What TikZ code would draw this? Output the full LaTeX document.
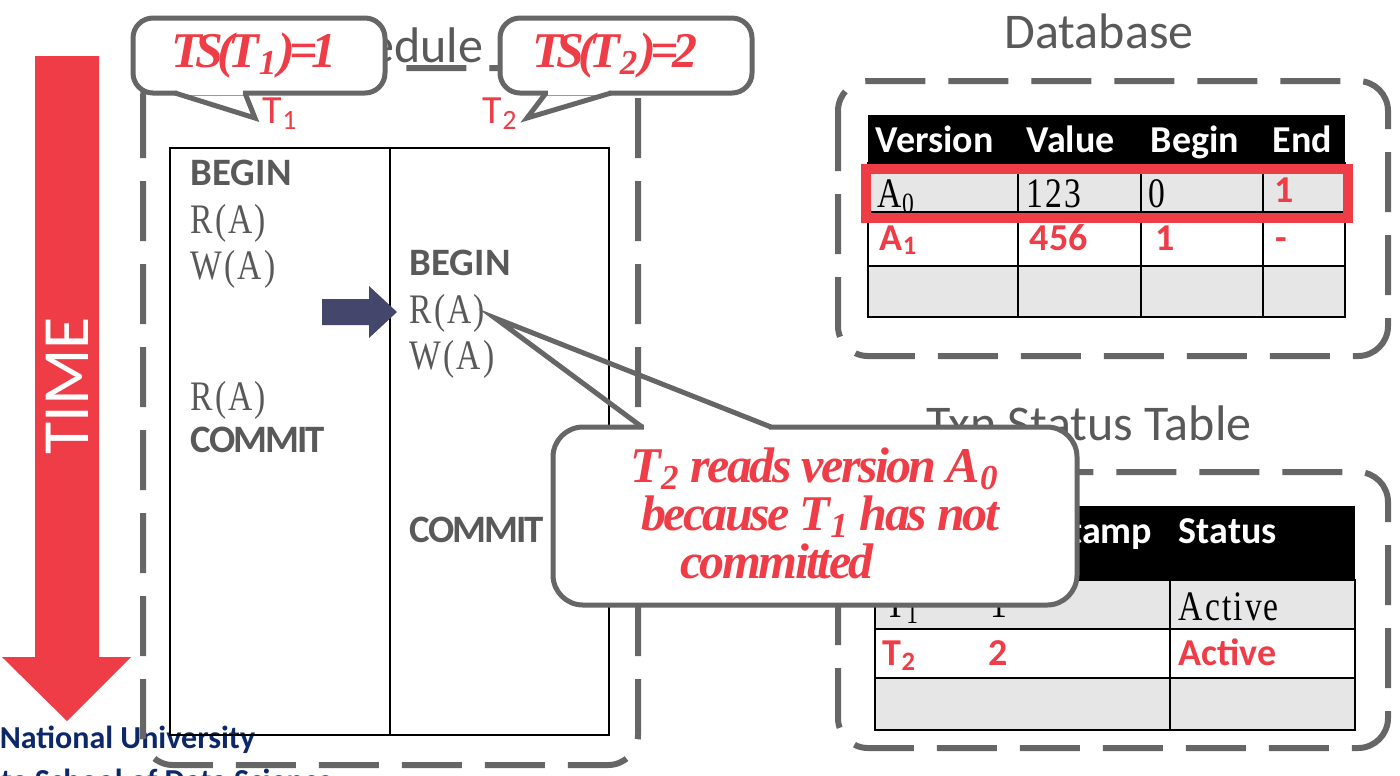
\documentclass[tikz,border=0pt]{standalone}
\usepackage{fontspec}
\setmainfont{Liberation Serif}
\setsansfont{Carlito}
\newfontfamily\opfont[FakeStretch=0.8, LetterSpace=5]{Liberation Serif}
\newfontfamily\tightsans[LetterSpace=-5]{Carlito}
\newfontfamily\notefont[LetterSpace=-5]{Liberation Serif}
\newfontfamily\tsfont[LetterSpace=-12]{Liberation Serif}
\usetikzlibrary{positioning}

\definecolor{slidered}{HTML}{EE3D46}
\definecolor{linegray}{HTML}{666666}
\definecolor{textgray}{HTML}{595959}
\definecolor{arrownavy}{HTML}{45466B}
\definecolor{rowgray}{HTML}{E6E6E6}
\definecolor{uninavy}{HTML}{0C2869}

\tikzset{
  dashbox/.style={draw=linegray, line width=1.5pt, dash pattern=on 15pt off 5.75pt, rounded corners=7.5pt},
  bubble/.style={draw=linegray, line width=1.25pt, fill=white, rounded corners=5pt, inner sep=0pt},
  tail/.style={draw=linegray, line width=1.25pt, line join=miter},
  grid/.style={draw=black, line width=0.5pt},
  title/.style={font=\sffamily\fontsize{12.5}{15}\selectfont, text=textgray, anchor=base, inner sep=0pt},
  hdr/.style={font=\sffamily\bfseries\fontsize{9.5}{11}\selectfont, text=white, anchor=base west, inner sep=0pt},
  cell/.style={font=\opfont\fontsize{10.5}{13}\selectfont, text=black, anchor=base west, inner sep=0pt},
  redcell/.style={font=\sffamily\bfseries\fontsize{9.5}{11}\selectfont, text=slidered, anchor=base west, inner sep=0pt},
  op/.style={font=\opfont\fontsize{10.5}{13}\selectfont, text=textgray, anchor=base west, inner sep=0pt},
  kw/.style={font=\sffamily\bfseries\fontsize{9.7}{12}\selectfont, text=textgray, anchor=base west, inner sep=0pt},
  kwtight/.style={kw, font=\tightsans\bfseries\fontsize{9.7}{12}\selectfont},
  txnlabel/.style={font=\sffamily\fontsize{10}{12}\selectfont, text=slidered, anchor=base west, inner sep=0pt},
  note/.style={font=\notefont\bfseries\itshape\fontsize{12.5}{14}\selectfont, text=slidered, anchor=base, inner sep=0pt},
  tsnote/.style={font=\tsfont\bfseries\itshape\fontsize{12.5}{14}\selectfont, text=slidered, anchor=base, inner sep=0pt},
  uni/.style={font=\sffamily\bfseries\fontsize{8}{10}\selectfont, text=uninavy, anchor=base west, inner sep=0pt}
}

\begin{document}
\begin{tikzpicture}[x=0.25pt, y=-0.25pt]
\useasboundingbox (0,0) rectangle (1400,775);
% footer, cut by the page edge
\begin{scope}
\clip (0,0) rectangle (1400,775);
\node[uni] (uni1) at (-1,748) {National University};
\node[uni] (uni2) at (0,791) {te School of Data Science};
\end{scope}
% time arrow
\fill[slidered] (35,56) -- (99,56) -- (99,657) -- (131,657) -- (67,721) -- (2,657) -- (35,657) -- cycle;
\node[font=\sffamily\fontsize{16.5}{18}\selectfont, text=white, rotate=90] (time) at (67,386) {TIME};

% schedule
\draw[dashbox] (143,68) rectangle (638,765);
\node[title, anchor=base east] (schedtitle) at (484,62) {Schedule};
\draw[grid] (170,148) rectangle (609,735);
\draw[grid] (390,148) -- (390,735);
\node[kw] (begin1) at (190,185) {BEGIN};
\node[op] (read1) at (190,233) {R(A)};
\node[op] (write1) at (190,279) {W(A)};
\node[op] (read1b) at (190,410) {R(A)};
\node[kwtight] (commit1) at (190,452) {COMMIT};
\node[kw] (begin2) at (409,275) {BEGIN};
\node[op] (read2) at (409,323) {R(A)};
\node[op] (write2) at (409,369) {W(A)};
\node[kwtight] (commit2) at (409,542) {COMMIT};
\fill[arrownavy] (322,299) -- (369,299) -- (369,286) -- (397,312) -- (369,338) -- (369,325) -- (322,325) -- cycle;
\node[txnlabel] (lblT1) at (262,123) {T\textsubscript{1}};
\node[txnlabel] (lblT2) at (482,123) {T\textsubscript{2}};

% database
\node[title] (dbtitle) at (1099,48) {Database};
\draw[dashbox] (838,81) rectangle (1388,356);
\fill[black] (868,115) rectangle (1345,163);
\fill[rowgray] (868,163) rectangle (1345,212);
\fill[rowgray] (868,266) rectangle (1345,317);
\draw[grid] (868,163) rectangle (1345,317);
\foreach \y in {212,266}
  \draw[grid] (868,\y) -- (1345,\y);
\foreach \x in {1018,1141,1263}
  \draw[grid] (\x,163) -- (\x,317);
\foreach \x/\t in {875/Version, 1026/Value, 1150/Begin, 1272/End}
  \node[hdr] (db\t) at (\x,152) {\t};
\node[cell] (verA0) at (877,207) {A\textsubscript{0}};
\node[cell] (valA0) at (1026,207) {123};
\node[cell] (begA0) at (1148,207) {0};
\node[redcell] (endA0) at (1274,202) {1};
\node[redcell] (verA1) at (879,250) {A\textsubscript{1}};
\node[redcell] (valA1) at (1029,250) {456};
\node[redcell] (begA1) at (1155,250) {1};
\node[redcell] (endA1) at (1275,250) {-};
\draw[slidered, line width=2.5pt] (866,169) rectangle (1348,218);

% txn status table
\node[title] (txntitle) at (1089,440) {Txn Status Table};
\draw[dashbox] (838,472) rectangle (1388,748);
\fill[black] (875,506) rectangle (1355,580);
\fill[rowgray] (875,580) rectangle (1355,629);
\fill[rowgray] (875,678) rectangle (1355,730);
\draw[grid] (875,580) rectangle (1355,730);
\foreach \y in {629,678}
  \draw[grid] (875,\y) -- (1355,\y);
\draw[grid] (1170,580) -- (1170,730);
\node[hdr, anchor=base east] (tshdr) at (1153,543) {Timestamp};
\node[hdr] (sthdr) at (1178,543) {Status};
\node[cell] (idT1) at (885,617) {T\textsubscript{1}};
\node[cell] (tsT1) at (990,617) {1};
\node[cell] (stT1) at (1178,620) {Active};
\node[redcell] (idT2) at (882,665) {T\textsubscript{2}};
\node[redcell] (tsT2) at (988,665) {2};
\node[redcell] (stT2) at (1178,665) {Active};

% timestamp callouts
\node[bubble, minimum width=63pt, minimum height=18.75pt] (ts1) at (259,55.5) {};
\node[bubble, minimum width=63pt, minimum height=18.75pt] (ts2) at (626,55.5) {};
\coordinate (ts1a) at (175,93);
\coordinate (ts1b) at (245,93);
\coordinate (ts1tip) at (255,118);
\coordinate (ts2a) at (546,93);
\coordinate (ts2b) at (611,93);
\coordinate (ts2tip) at (527,118);
\fill[white] (177,89) rectangle (243,95);
\fill[white] (548,89) rectangle (609,95);
\draw[tail] (ts1a) -- (ts1tip) -- (ts1b);
\draw[tail] (ts2a) -- (ts2tip) -- (ts2b);
\node[tsnote] (ts1txt) at (254,67) {TS(T\textsubscript{1})=1};
\node[tsnote] (ts2txt) at (615,67) {TS(T\textsubscript{2})=2};

% read callout
\node[bubble, rounded corners=7.5pt, minimum width=131pt, minimum height=44.5pt] (readnote) at (815,516) {};
\coordinate (reada) at (642,427);
\coordinate (readb) at (771,427);
\coordinate (readtip) at (495,318);
\fill[white] (644,423) rectangle (769,431);
\draw[tail] (reada) -- (readtip) -- (readb);
\node[note] (note1) at (815,482) {T\textsubscript{2} reads version A\textsubscript{0}};
\node[note] (note2) at (820,530) {because T\textsubscript{1} has not};
\node[note] (note3) at (777,578) {committed};
\end{tikzpicture}
\end{document}
